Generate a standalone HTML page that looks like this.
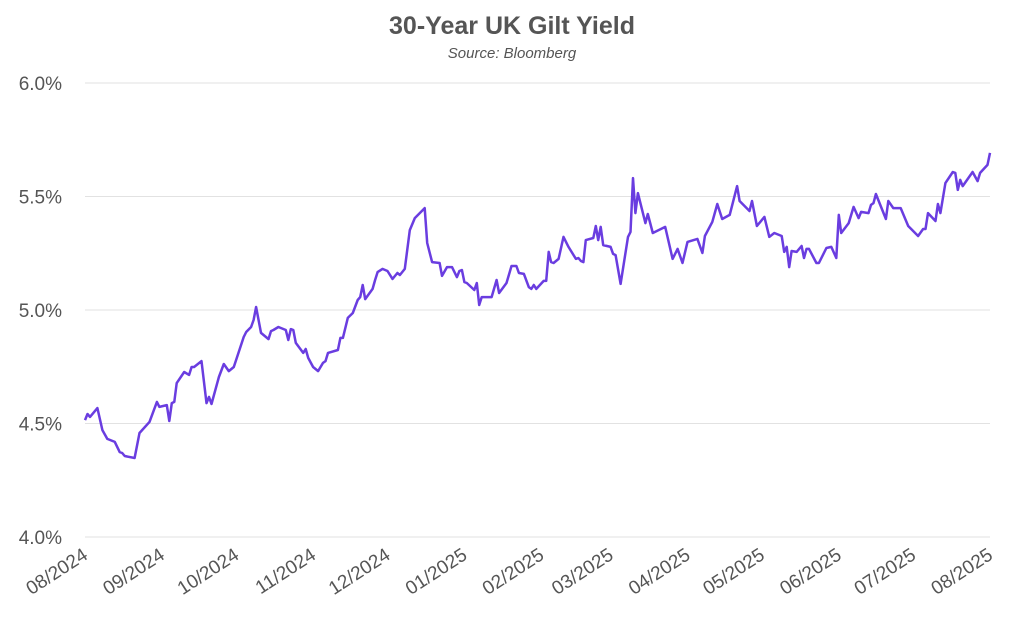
<!DOCTYPE html>
<html><head><meta charset="utf-8"><style>
body{margin:0;background:#fff;}
svg{display:block;font-family:"Liberation Sans",sans-serif;}
</style></head><body>
<svg id="chart" width="1024" height="632">
<text x="512" y="34" text-anchor="middle" font-size="25" font-weight="bold" fill="#555">30-Year UK Gilt Yield</text>
<text x="512" y="58" text-anchor="middle" font-size="15" font-style="italic" fill="#555">Source: Bloomberg</text>
<g id="grid"></g><g id="yticks"></g><g id="xticks"></g><g id="series"></g>
</svg>
<script>
const yTicks=[4.0,4.5,5.0,5.5,6.0];
const monthLabels=["08/2024","09/2024","10/2024","11/2024","12/2024","01/2025","02/2025","03/2025","04/2025","05/2025","06/2025","07/2025","08/2025"];
const monthDays=[0,31,61,92,122,153,184,212,243,273,304,334,365];
const days=[0,1,2,5,7,9,12,14,15,16,20,22,26,29,30,33,34,35,36,37,40,42,43,44,47,49,50,51,54,56,58,60,64,65,67,68,69,71,74,75,76,78,81,82,83,84,85,88,89,90,92,94,96,97,98,102,103,104,106,108,110,111,112,113,116,117,118,120,122,124,126,127,129,131,133,137,138,140,143,144,146,148,150,151,152,153,154,157,158,159,160,164,166,167,170,172,174,175,177,179,180,181,182,185,186,187,188,189,191,193,195,198,199,200,201,202,205,206,207,208,209,212,213,214,216,219,220,221,222,223,226,227,229,234,237,239,241,243,247,249,250,253,255,257,260,263,264,268,269,271,274,276,278,281,282,283,284,285,287,289,290,291,292,295,296,299,301,303,304,305,308,310,312,313,316,317,318,319,323,324,326,329,332,336,338,339,340,343,344,345,347,350,351,352,353,354,358,360,361,364,365];
const yields=[4.515,4.542,4.529,4.568,4.471,4.432,4.419,4.374,4.370,4.357,4.348,4.458,4.507,4.595,4.573,4.581,4.511,4.590,4.595,4.678,4.727,4.714,4.749,4.749,4.775,4.590,4.617,4.586,4.705,4.762,4.731,4.749,4.881,4.903,4.925,4.956,5.013,4.899,4.872,4.907,4.912,4.925,4.912,4.868,4.916,4.912,4.855,4.811,4.828,4.789,4.749,4.731,4.767,4.775,4.811,4.824,4.877,4.877,4.965,4.987,5.044,5.057,5.110,5.048,5.093,5.132,5.167,5.181,5.172,5.137,5.163,5.154,5.181,5.352,5.405,5.449,5.295,5.211,5.207,5.150,5.189,5.189,5.145,5.172,5.176,5.123,5.119,5.088,5.119,5.022,5.057,5.057,5.132,5.075,5.119,5.194,5.194,5.163,5.159,5.101,5.093,5.110,5.093,5.128,5.128,5.256,5.211,5.207,5.225,5.322,5.278,5.225,5.229,5.216,5.211,5.308,5.317,5.370,5.308,5.366,5.286,5.278,5.247,5.242,5.115,5.322,5.344,5.581,5.427,5.515,5.383,5.423,5.339,5.366,5.225,5.269,5.207,5.300,5.313,5.251,5.326,5.388,5.467,5.401,5.419,5.546,5.480,5.436,5.480,5.370,5.410,5.322,5.339,5.326,5.256,5.278,5.189,5.260,5.256,5.282,5.229,5.269,5.269,5.207,5.207,5.273,5.278,5.229,5.419,5.339,5.383,5.454,5.405,5.432,5.427,5.463,5.471,5.511,5.401,5.480,5.449,5.449,5.370,5.326,5.357,5.357,5.427,5.392,5.467,5.427,5.559,5.608,5.604,5.529,5.573,5.546,5.608,5.568,5.604,5.639,5.692];
const NS="http://www.w3.org/2000/svg";
const X0=85,X1=990,Y0=537,Y1=83;
function xs(d){return X0+(d/365)*(X1-X0);}
function ys(v){return Y0-(v-4.0)/2.0*(Y0-Y1);}
function mk(tag,attrs,parent){const e=document.createElementNS(NS,tag);for(const k in attrs)e.setAttribute(k,attrs[k]);parent.appendChild(e);return e;}
const grid=document.getElementById('grid'),yt=document.getElementById('yticks'),xt=document.getElementById('xticks'),ser=document.getElementById('series');
yTicks.forEach(v=>{
  const l=mk('line',{x1:X0,x2:X1,y1:ys(v),y2:ys(v),stroke:'#e2e2e2','stroke-width':1},grid);
  
  
  const t=mk('text',{x:62,y:ys(v)+7,'text-anchor':'end','font-size':19,fill:'#555'},yt);
  t.textContent=v.toFixed(1)+'%';
  
  
});
monthLabels.forEach((lab,i)=>{
  const x=xs(monthDays[i])+4,y=558;
  const t=mk('text',{x:x,y:y,'text-anchor':'end','font-size':19,fill:'#555',transform:`rotate(-33 ${x} ${y})`},xt);
  t.textContent=lab;
  
  
});
const pts=days.map((d,i)=>xs(d).toFixed(1)+','+ys(yields[i]).toFixed(1)).join(' ');
const pl=mk('polyline',{points:pts,fill:'none',stroke:'#6a3de0','stroke-width':2.5,'stroke-linejoin':'round'},ser);


</script>
</body></html>
